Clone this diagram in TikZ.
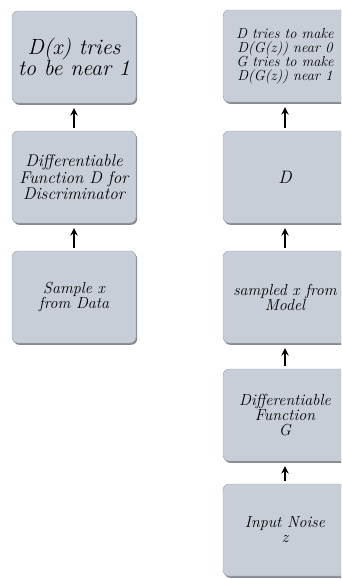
\documentclass[tikz,border=0pt]{standalone}
\usetikzlibrary{shadows}
\definecolor{boxfill}{HTML}{C8CED8}
\definecolor{boxline}{HTML}{9AA0A8}
\definecolor{boxshade}{HTML}{858A92}
\tikzset{
  stage/.style={draw=boxline, fill=boxfill, rounded corners=6pt, minimum width=124pt,
    minimum height=92pt, align=center, inner sep=1pt,
    drop shadow={shadow xshift=1.2pt, shadow yshift=-1.8pt, fill=boxshade, opacity=1}},
  flow/.style={->, line width=2.2pt, shorten >=5pt, shorten <=3pt}
}
\begin{document}
\begin{tikzpicture}[>=stealth, x=1pt, y=-1pt, every node/.style={font=\itshape}]
\clip (0,0) rectangle (341,579);
\fill[white] (0,0) rectangle (341,579);
% real data side
\node[stage, font=\itshape\fontsize{22}{21}\selectfont] (d1) at (74,57) {D(x) tries\\to be near 1};
\node[stage, font=\itshape\fontsize{17}{15}\selectfont] (d2) at (74,177) {Differentiable\\Function D for\\Discriminator};
\node[stage, font=\itshape\fontsize{16}{15}\selectfont] (d3) at (74,297) {Sample x\\from Data};
\draw[flow] (d3)--(d2);\draw[flow] (d2)--(d1);
% model side
\node[stage, font=\itshape\fontsize{14.5}{14}\selectfont] (g1) at (285,56) {D tries to make\\D(G(z)) near 0\\G tries to make\\D(G(z)) near 1};
\node[stage, font=\itshape\fontsize{18}{18}\selectfont] (g2) at (285,177) {D};
\node[stage, font=\itshape\fontsize{16}{15}\selectfont] (g3) at (285,297) {sampled x from\\Model};
\node[stage, font=\itshape\fontsize{16}{15}\selectfont] (g4) at (285,415) {Differentiable\\Function\\G};
\node[stage, font=\itshape\fontsize{16}{15}\selectfont] (g5) at (285,530) {Input Noise\\z};
\draw[flow] (g5)--(g4);\draw[flow] (g4)--(g3);\draw[flow] (g3)--(g2);\draw[flow] (g2)--(g1);
\end{tikzpicture}
\end{document}
